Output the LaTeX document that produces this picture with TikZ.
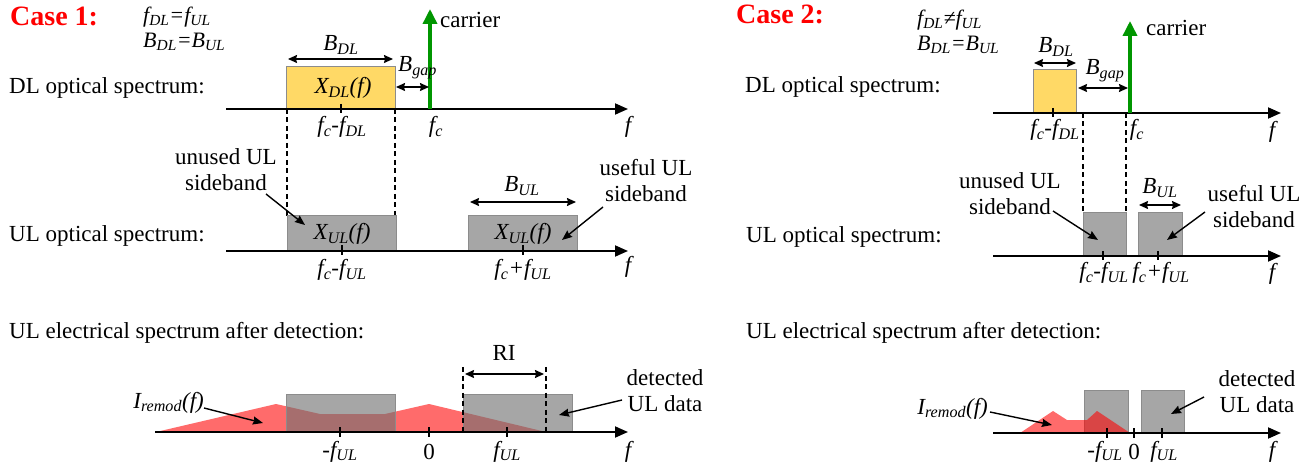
\documentclass[tikz,border=0pt]{standalone}
\usepackage{fontspec}
\setmainfont{Liberation Serif}
\usetikzlibrary{arrows.meta}
\definecolor{dlyellow}{RGB}{255,217,102}
\definecolor{ulgray}{RGB}{166,166,166}
\definecolor{elgray}{RGB}{112,112,112}
\definecolor{boxedge}{RGB}{140,140,140}
\definecolor{cgreen}{RGB}{0,150,0}
\definecolor{casered}{RGB}{255,0,0}
\tikzset{
  txt/.style={font=\fontsize{23}{26}\selectfont, inner sep=0pt},
  lbl/.style={font=\fontsize{23}{26}\selectfont\itshape, inner sep=0pt, text height=15pt, text depth=5pt},
  eqlbl/.style={font=\fontsize{22}{24}\selectfont\itshape, inner sep=0pt, text height=14pt, text depth=5pt, anchor=west},
  casehead/.style={font=\fontsize{28}{32}\selectfont\bfseries, text=casered, inner sep=0pt, anchor=west},
  axisline/.style={line width=1.8pt, -{Triangle[length=13pt,width=11pt]}},
  dbl/.style={line width=1.4pt, {Stealth[length=9pt,width=8pt,inset=1pt]}-{Stealth[length=9pt,width=8pt,inset=1pt]}},
  ptr/.style={line width=1.4pt, -{Stealth[length=10pt,width=8pt,inset=1pt]}},
  dsh/.style={line width=1.2pt, dash pattern=on 5pt off 3.5pt},
  tickm/.style={line width=1.2pt},
  dlbox/.style={fill=dlyellow, draw=boxedge, line width=0.9pt, inner sep=0pt, anchor=south west},
  ulbox/.style={fill=ulgray, draw=boxedge, line width=0.9pt, inner sep=0pt, anchor=south west},
  elbox/.style={fill=elgray, fill opacity=0.62, text opacity=1, draw=boxedge, line width=0.9pt, inner sep=0pt, anchor=south west},
  carrierarrow/.style={line width=3.5pt, draw=cgreen, -{Triangle[length=15pt,width=14pt]}},
  remod/.style={fill=red, fill opacity=0.58, draw=none},
}
\begin{document}
\begin{tikzpicture}[x=1pt,y=-1pt]
\useasboundingbox (0,0) rectangle (1315,470);

% ================= CASE 1 =================
\node[casehead] (c1) at (10,16) {Case 1:};
\node[eqlbl] (c1eqa) at (143,18) {f\textsubscript{DL}=f\textsubscript{UL}};
\node[eqlbl] (c1eqb) at (143,43) {B\textsubscript{DL}=B\textsubscript{UL}};
\node[txt, anchor=west] (c1dltxt) at (9,88) {DL optical spectrum:};
\node[txt, anchor=west] (c1ultxt) at (9,236) {UL optical spectrum:};
\node[txt, anchor=west] (c1eltxt) at (9,333) {UL electrical spectrum after detection:};

% DL spectrum
\coordinate (c1dls) at (226,109);
\coordinate (c1dle) at (628,109);
\node[dlbox, minimum width=109pt, minimum height=42pt] (c1dlbox) at (286,109) {};
\node[lbl] (c1xdl) at (343,89) {X\textsubscript{DL}(f)};
\draw[axisline] (c1dls) -- (c1dle);
\coordinate (c1carb) at (430,109);
\coordinate (c1cart) at (430,9);
\draw[carrierarrow] (c1carb) -- (c1cart);
\node[txt, anchor=west] (c1car) at (440,20) {carrier};
\coordinate (c1bdla) at (288,59);
\coordinate (c1bdlb) at (393,59);
\draw[dbl] (c1bdla) -- (c1bdlb);
\node[lbl] (c1bdl) at (341,46) {B\textsubscript{DL}};
\coordinate (c1bga) at (396,87);
\coordinate (c1bgb) at (429,87);
\draw[dbl] (c1bga) -- (c1bgb);
\node[lbl, anchor=west] (c1bgap) at (398,67) {B\textsubscript{gap}};
\coordinate (c1t1a) at (341,104);
\coordinate (c1t1b) at (341,113);
\draw[tickm] (c1t1a) -- (c1t1b);
\node[lbl] (c1fcdl) at (342,128) {f\textsubscript{c}-f\textsubscript{DL}};
\node[lbl] (c1fc) at (436,128) {f\textsubscript{c}};
\node[lbl] (c1f1) at (628,128) {f};

% dashed guides
\coordinate (c1d1a) at (287,109);
\coordinate (c1d1b) at (287,216);
\coordinate (c1d2a) at (395,109);
\coordinate (c1d2b) at (395,216);
\draw[dsh] (c1d1a) -- (c1d1b);
\draw[dsh] (c1d2a) -- (c1d2b);

% UL spectrum
\coordinate (c1uls) at (226,251);
\coordinate (c1ule) at (628,251);
\node[ulbox, minimum width=109pt, minimum height=35pt] (c1ulbox1) at (287,251) {};
\node[ulbox, minimum width=109pt, minimum height=35pt] (c1ulbox2) at (468,251) {};
\node[lbl] (c1xul1) at (342,235) {X\textsubscript{UL}(f)};
\node[lbl] (c1xul2) at (523,235) {X\textsubscript{UL}(f)};
\draw[axisline] (c1uls) -- (c1ule);
\coordinate (c1t2a) at (342,245);
\coordinate (c1t2b) at (342,255);
\draw[tickm] (c1t2a) -- (c1t2b);
\coordinate (c1t3a) at (523,245);
\coordinate (c1t3b) at (523,255);
\draw[tickm] (c1t3a) -- (c1t3b);
\node[lbl] (c1fcful) at (342,271) {f\textsubscript{c}-f\textsubscript{UL}};
\node[lbl] (c1fcpful) at (523,271) {f\textsubscript{c}+f\textsubscript{UL}};
\node[lbl] (c1f2) at (628,268) {f};
\coordinate (c1bula) at (470,202);
\coordinate (c1bulb) at (576,202);
\draw[dbl] (c1bula) -- (c1bulb);
\node[lbl] (c1bul) at (522,187) {B\textsubscript{UL}};
\node[txt, align=center] (c1unused) at (226,170) {unused UL\\sideband};
\coordinate (c1una) at (266,194);
\coordinate (c1unb) at (305,225);
\draw[ptr] (c1una) -- (c1unb);
\node[txt, align=center] (c1useful) at (646,181) {useful UL\\sideband};
\coordinate (c1usa) at (603,207);
\coordinate (c1usb) at (562,240);
\draw[ptr] (c1usa) -- (c1usb);

% electrical spectrum
\coordinate (c1els) at (155,432);
\coordinate (c1ele) at (628,432);
\coordinate (c1r1) at (156,432);
\coordinate (c1r2) at (276,404);
\coordinate (c1r3) at (320,414);
\coordinate (c1r4) at (385,414);
\coordinate (c1r5) at (429,404);
\coordinate (c1r6) at (546,432);
\fill[remod] (c1r1) -- (c1r2) -- (c1r3) -- (c1r4) -- (c1r5) -- (c1r6) -- cycle;
\node[elbox, minimum width=109pt, minimum height=37pt] (c1elbox1) at (286,432) {};
\node[elbox, minimum width=109pt, minimum height=37pt] (c1elbox2) at (463,432) {};
\draw[axisline] (c1els) -- (c1ele);
\coordinate (c1t4a) at (340,427);
\coordinate (c1t4b) at (340,437);
\draw[tickm] (c1t4a) -- (c1t4b);
\coordinate (c1t5a) at (429,427);
\coordinate (c1t5b) at (429,437);
\draw[tickm] (c1t5a) -- (c1t5b);
\coordinate (c1t6a) at (507,427);
\coordinate (c1t6b) at (507,437);
\draw[tickm] (c1t6a) -- (c1t6b);
\node[lbl] (c1mful) at (340,452) {-f\textsubscript{UL}};
\node[txt] (c1zero) at (429,452) {0};
\node[lbl] (c1ful) at (507,452) {f\textsubscript{UL}};
\node[lbl] (c1f3) at (628,452) {f};
\coordinate (c1d3a) at (463,367);
\coordinate (c1d3b) at (463,432);
\coordinate (c1d4a) at (546,367);
\coordinate (c1d4b) at (546,432);
\draw[dsh] (c1d3a) -- (c1d3b);
\draw[dsh] (c1d4a) -- (c1d4b);
\coordinate (c1ria) at (465,374);
\coordinate (c1rib) at (544,374);
\draw[dbl] (c1ria) -- (c1rib);
\node[txt] (c1ri) at (504,353) {RI};
\node[lbl, anchor=east] (c1irem) at (204,403) {I\textsubscript{remod}(f)};
\coordinate (c1ira) at (204,408);
\coordinate (c1irb) at (263,423);
\draw[ptr] (c1ira) -- (c1irb);
\node[txt, align=center] (c1det) at (665,391) {detected\\UL data};
\coordinate (c1dea) at (622,400);
\coordinate (c1deb) at (559,415);
\draw[ptr] (c1dea) -- (c1deb);

% ================= CASE 2 =================
\node[casehead] (c2) at (736,14) {Case 2:};
\node[eqlbl] (c2eqa) at (917,21) {f\textsubscript{DL}≠f\textsubscript{UL}};
\node[eqlbl] (c2eqb) at (917,46) {B\textsubscript{DL}=B\textsubscript{UL}};
\node[txt, anchor=west] (c2dltxt) at (745,87) {DL optical spectrum:};
\node[txt, anchor=west] (c2ultxt) at (746,237) {UL optical spectrum:};
\node[txt, anchor=west] (c2eltxt) at (746,333) {UL electrical spectrum after detection:};

% DL
\coordinate (c2dls) at (993,113);
\coordinate (c2dle) at (1281,113);
\node[dlbox, minimum width=43pt, minimum height=43pt] (c2dlbox) at (1033,113) {};
\draw[axisline] (c2dls) -- (c2dle);
\coordinate (c2carb) at (1130,113);
\coordinate (c2cart) at (1130,21);
\draw[carrierarrow] (c2carb) -- (c2cart);
\node[txt, anchor=west] (c2car) at (1146,28) {carrier};
\coordinate (c2bdla) at (1034,63);
\coordinate (c2bdlb) at (1076,63);
\draw[dbl] (c2bdla) -- (c2bdlb);
\node[lbl] (c2bdl) at (1056,48) {B\textsubscript{DL}};
\coordinate (c2bga) at (1078,88);
\coordinate (c2bgb) at (1128,88);
\draw[dbl] (c2bga) -- (c2bgb);
\node[lbl] (c2bgap) at (1105,70) {B\textsubscript{gap}};
\coordinate (c2t1a) at (1053,108);
\coordinate (c2t1b) at (1053,117);
\draw[tickm] (c2t1a) -- (c2t1b);
\node[lbl] (c2fcdl) at (1055,131) {f\textsubscript{c}-f\textsubscript{DL}};
\node[lbl] (c2fc) at (1137,131) {f\textsubscript{c}};
\node[lbl] (c2f1) at (1272,133) {f};
\coordinate (c2d1a) at (1083,113);
\coordinate (c2d1b) at (1083,213);
\coordinate (c2d2a) at (1126,113);
\coordinate (c2d2b) at (1126,213);
\draw[dsh] (c2d1a) -- (c2d1b);
\draw[dsh] (c2d2a) -- (c2d2b);

% UL
\coordinate (c2uls) at (993,256);
\coordinate (c2ule) at (1281,256);
\node[ulbox, minimum width=43pt, minimum height=43pt] (c2ulbox1) at (1083,256) {};
\node[ulbox, minimum width=44pt, minimum height=43pt] (c2ulbox2) at (1138,256) {};
\draw[axisline] (c2uls) -- (c2ule);
\coordinate (c2t2a) at (1103,251);
\coordinate (c2t2b) at (1103,260);
\draw[tickm] (c2t2a) -- (c2t2b);
\coordinate (c2t3a) at (1158,251);
\coordinate (c2t3b) at (1158,260);
\draw[tickm] (c2t3a) -- (c2t3b);
\node[lbl] (c2fcful) at (1104,274) {f\textsubscript{c}-f\textsubscript{UL}};
\node[lbl] (c2fcpful) at (1161,274) {f\textsubscript{c}+f\textsubscript{UL}};
\node[lbl] (c2f2) at (1272,275) {f};
\coordinate (c2bula) at (1139,205);
\coordinate (c2bulb) at (1181,205);
\draw[dbl] (c2bula) -- (c2bulb);
\node[lbl] (c2bul) at (1160,189) {B\textsubscript{UL}};
\node[txt, align=center] (c2unused) at (1010,194) {unused UL\\sideband};
\coordinate (c2una) at (1053,211);
\coordinate (c2unb) at (1098,240);
\draw[ptr] (c2una) -- (c2unb);
\node[txt, align=center] (c2useful) at (1254,207) {useful UL\\sideband};
\coordinate (c2usa) at (1205,212);
\coordinate (c2usb) at (1167,240);
\draw[ptr] (c2usa) -- (c2usb);

% electrical
\coordinate (c2els) at (993,433);
\coordinate (c2ele) at (1281,433);
\node[ulbox, minimum width=44pt, minimum height=42pt] (c2elbox1) at (1084,433) {};
\node[ulbox, minimum width=43pt, minimum height=42pt] (c2elbox2) at (1141,433) {};
\coordinate (c2r1) at (1020,433);
\coordinate (c2r2) at (1053,411);
\coordinate (c2r3) at (1067,420);
\coordinate (c2r4) at (1087,420);
\coordinate (c2r5) at (1097,411);
\coordinate (c2r6) at (1130,433);
\fill[remod] (c2r1) -- (c2r2) -- (c2r3) -- (c2r4) -- (c2r5) -- (c2r6) -- cycle;
\draw[axisline] (c2els) -- (c2ele);
\coordinate (c2t4a) at (1107,428);
\coordinate (c2t4b) at (1107,438);
\draw[tickm] (c2t4a) -- (c2t4b);
\coordinate (c2t5a) at (1134,428);
\coordinate (c2t5b) at (1134,438);
\draw[tickm] (c2t5a) -- (c2t5b);
\coordinate (c2t6a) at (1162,428);
\coordinate (c2t6b) at (1162,438);
\draw[tickm] (c2t6a) -- (c2t6b);
\node[lbl] (c2mful) at (1105,452) {-f\textsubscript{UL}};
\node[txt] (c2zero) at (1134,452) {0};
\node[lbl] (c2ful) at (1164,452) {f\textsubscript{UL}};
\node[lbl] (c2f3) at (1272,452) {f};
\node[lbl, anchor=east] (c2irem) at (988,409) {I\textsubscript{remod}(f)};
\coordinate (c2ira) at (990,412);
\coordinate (c2irb) at (1052,425);
\draw[ptr] (c2ira) -- (c2irb);
\node[txt, align=center] (c2det) at (1257,392) {detected\\UL data};
\coordinate (c2dea) at (1204,397);
\coordinate (c2deb) at (1171,414);
\draw[ptr] (c2dea) -- (c2deb);
\end{tikzpicture}
\end{document}
